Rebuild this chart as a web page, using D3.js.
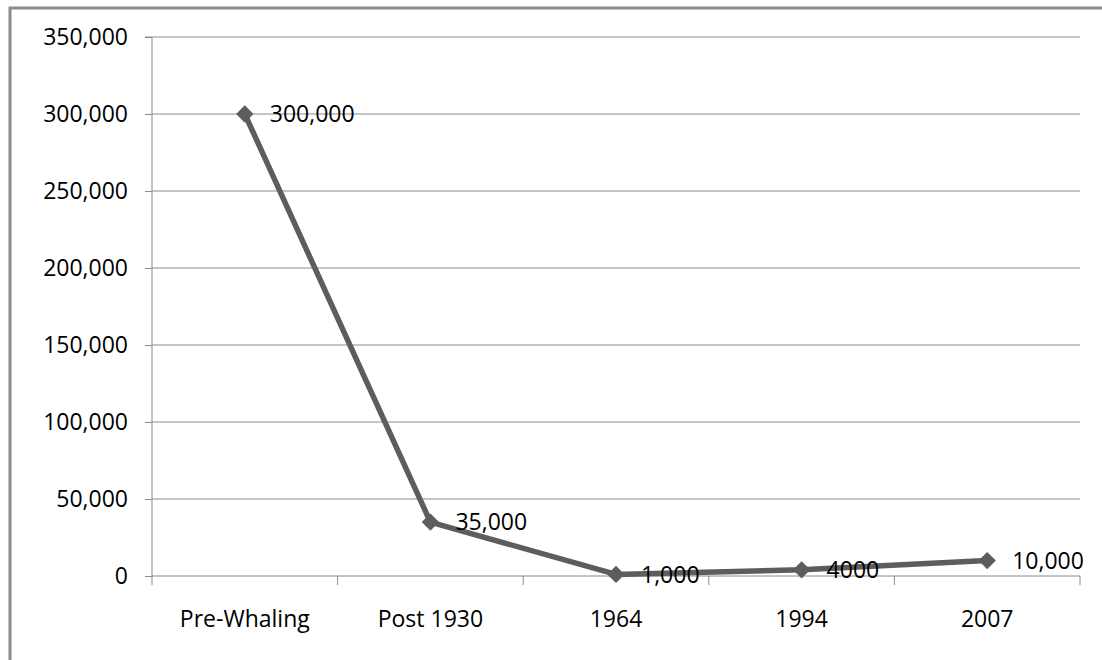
<!DOCTYPE html>
<html>
<head>
<meta charset="utf-8">
<script src="https://cdn.jsdelivr.net/npm/d3@7"></script>
<style>
  html, body { margin: 0; padding: 0; background: #fff; }
  svg { display: block; }
  text { font-family: "Open Sans", "Liberation Sans", sans-serif; fill: #000; }
</style>
</head>
<body>
<svg id="chart" width="1102" height="660"></svg>
<script>
// Whale population estimates by period
const categories = ["Pre-Whaling", "Post 1930", "1964", "1994", "2007"];
const population = [300000, 35000, 1000, 4000, 10000];
const valueLabels = ["300,000", "35,000", "1,000", "4000", "10,000"];
const yTicks = [0, 50000, 100000, 150000, 200000, 250000, 300000, 350000];

const svg = d3.select("#chart");
const margin = { left: 152, right: 22, top: 37, bottom: 84 };
const W = 1102, H = 660;
const FS = 23;

// chart frame (extends past the right and bottom edges)
svg.append("rect")
  .attr("x", 10).attr("y", 8)
  .attr("width", W + 20).attr("height", H + 20)
  .attr("fill", "none").attr("stroke", "#8c8c8c").attr("stroke-width", 3);

const x = d3.scaleBand().domain(categories)
  .range([margin.left, W - margin.right]).padding(0);
const y = d3.scaleLinear().domain([0, 350000])
  .range([H - margin.bottom, margin.top]);

// horizontal gridlines
svg.append("g").selectAll("line").data(yTicks.slice(1)).join("line")
  .attr("x1", margin.left).attr("x2", W - margin.right)
  .attr("y1", d => y(d)).attr("y2", d => y(d))
  .attr("stroke", "#8a8a8a").attr("stroke-width", 1);

// y axis
const yAxis = svg.append("g")
  .attr("transform", `translate(${margin.left},0)`)
  .call(d3.axisLeft(y).tickValues(yTicks).tickSize(7).tickPadding(17)
    .tickFormat(d3.format(",")));
yAxis.select(".domain").attr("stroke", "#8a8a8a").attr("d", `M-7,${y(350000)}H0V${y(0)}`);
yAxis.selectAll(".tick line").attr("stroke", "#8a8a8a");
yAxis.selectAll(".tick text").attr("font-size", FS).attr("fill", "#000");

// x axis with tick marks on category boundaries
const xAxis = svg.append("g")
  .attr("transform", `translate(0,${y(0)})`);
xAxis.append("line")
  .attr("x1", margin.left).attr("x2", W - margin.right)
  .attr("stroke", "#8a8a8a");
const bounds = categories.map(c => x(c)).concat([x(categories[categories.length - 1]) + x.bandwidth()]);
xAxis.selectAll(".bt").data(bounds).join("line")
  .attr("class", "bt")
  .attr("x1", d => d).attr("x2", d => d)
  .attr("y1", 0).attr("y2", 9)
  .attr("stroke", "#8a8a8a");
xAxis.selectAll(".cl").data(categories).join("text")
  .attr("class", "cl")
  .attr("x", d => x(d) + x.bandwidth() / 2)
  .attr("y", 51)
  .attr("text-anchor", "middle")
  .attr("font-size", FS)
  .text(d => d);

const cx = (d, i) => x(categories[i]) + x.bandwidth() / 2;

// series line
const line = d3.line().x((d, i) => cx(d, i)).y(d => y(d));
svg.append("path")
  .datum(population)
  .attr("d", line)
  .attr("fill", "none")
  .attr("stroke", "#5d5d5d")
  .attr("stroke-width", 5.5)
  .attr("stroke-linejoin", "round");

// diamond markers
svg.append("g").selectAll("path").data(population).join("path")
  .attr("transform", (d, i) => `translate(${cx(d, i)},${y(d)}) rotate(45)`)
  .attr("d", d3.symbol(d3.symbolSquare, 150))
  .attr("fill", "#5d5d5d");

// value labels
svg.append("g").selectAll("text").data(population).join("text")
  .attr("x", (d, i) => cx(d, i) + 25)
  .attr("y", d => y(d))
  .attr("dy", "0.36em")
  .attr("font-size", FS)
  .text((d, i) => valueLabels[i]);
</script>
</body>
</html>
